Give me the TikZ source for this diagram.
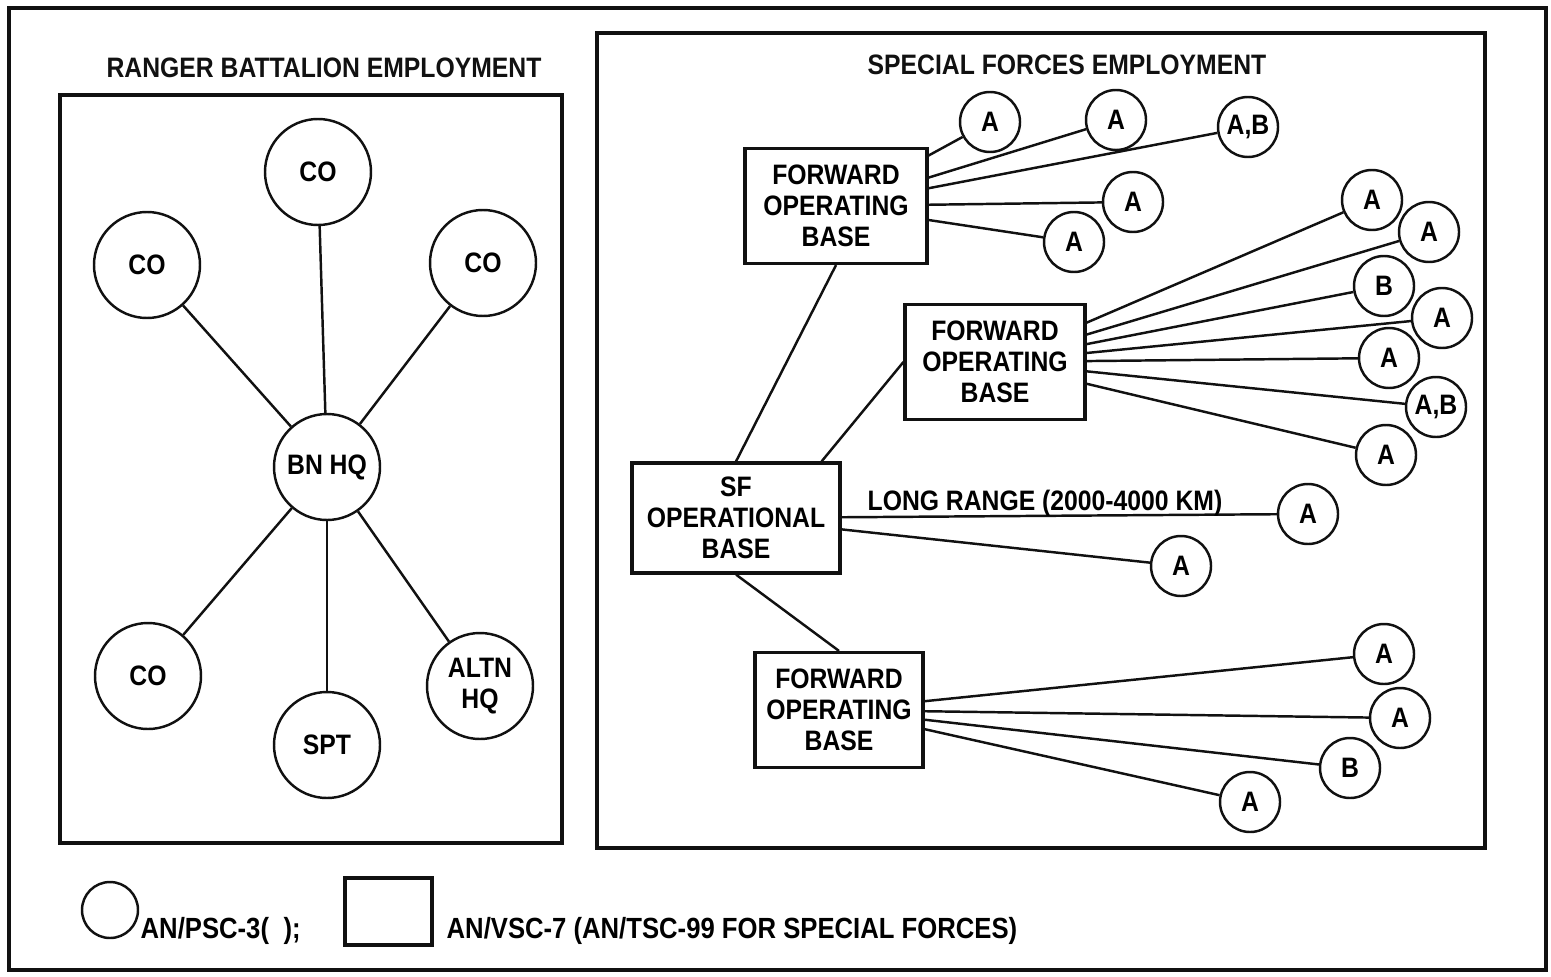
\documentclass[tikz,border=0pt]{standalone}
\usepackage{fontspec}
\setmainfont[FakeStretch=0.88]{Liberation Sans}
\usetikzlibrary{positioning}
\definecolor{Ink}{HTML}{111111}

\begin{document}
\begin{tikzpicture}[font=\fontsize{8}{8.8}\selectfont\bfseries,radio/.style={circle, draw=Ink, line width=0.7pt, minimum size=1.06cm, inner sep=0pt, align=center},tinyradio/.style={circle, draw=Ink, line width=0.7pt, minimum size=0.6cm, inner sep=0pt},station/.style={draw=Ink, line width=0.9pt, inner sep=0pt, align=center},link/.style={draw=Ink, line width=0.7pt},frame/.style={draw=Ink, line width=1pt},paneltitle/.style={text=Ink, font=\fontsize{8}{9}\selectfont\bfseries},keytext/.style={anchor=base west, inner sep=0pt, font=\fontsize{8.3}{9}\selectfont\bfseries}]
\useasboundingbox (0,0) rectangle (15.51,-9.76);
\draw[frame] (0.09,-0.08) rectangle (15.46,-9.70);
\draw[frame] (0.60,-0.95) rectangle (5.62,-8.43);
\draw[frame] (5.97,-0.33) rectangle (14.85,-8.48);
\node[paneltitle] (rtitle) at (3.24,-0.68) {RANGER BATTALION EMPLOYMENT};
\node[paneltitle] (stitle) at (10.67,-0.65) {SPECIAL FORCES EMPLOYMENT};
% ranger battalion
\node[radio] (bnhq) at (3.27,-4.67) {BN HQ};
\node[radio] (co1) at (3.18,-1.72) {CO};
\node[radio] (co2) at (1.47,-2.65) {CO};
\node[radio] (co3) at (4.83,-2.63) {CO};
\node[radio] (co4) at (1.48,-6.76) {CO};
\node[radio] (spt) at (3.27,-7.45) {SPT};
\node[radio] (altn) at (4.80,-6.86) {ALTN\\HQ};
\foreach \n in {co1,co2,co3,co4,spt,altn} \draw[link] (bnhq) -- (\n);
% special forces
\node[station, minimum width=2.08cm, minimum height=1.10cm] (sfob) at (7.36,-5.18) {SF\\OPERATIONAL\\BASE};
\node[station, minimum width=1.82cm, minimum height=1.15cm] (fob1) at (8.36,-2.06) {FORWARD\\OPERATING\\BASE};
\node[station, minimum width=1.80cm, minimum height=1.15cm] (fob2) at (9.95,-3.62) {FORWARD\\OPERATING\\BASE};
\node[station, minimum width=1.68cm, minimum height=1.15cm] (fob3) at (8.39,-7.10) {FORWARD\\OPERATING\\BASE};
\draw[link] (sfob.north) -- (fob1.south);
\draw[link] ([xshift=-0.2cm]sfob.north east) -- (fob2.west);
\draw[link] (sfob.south) -- (fob3.north);
\node[tinyradio] (a11) at (9.90,-1.22) {A};
\node[tinyradio] (a12) at (11.16,-1.20) {A};
\node[tinyradio] (a13) at (12.48,-1.27) {A,B};
\node[tinyradio] (a14) at (11.33,-2.02) {A};
\node[tinyradio] (a15) at (10.74,-2.42) {A};
\foreach \n in {a11,a12,a13,a14,a15} \draw[link] (fob1) -- (\n);
\node[tinyradio] (a21) at (13.72,-2.00) {A};
\node[tinyradio] (a22) at (14.29,-2.32) {A};
\node[tinyradio] (a23) at (13.84,-2.86) {B};
\node[tinyradio] (a24) at (14.42,-3.18) {A};
\node[tinyradio] (a25) at (13.89,-3.58) {A};
\node[tinyradio] (a26) at (14.36,-4.07) {A,B};
\node[tinyradio] (a27) at (13.86,-4.55) {A};
\foreach \n in {a21,a22,a23,a24,a25,a26,a27} \draw[link] (fob2) -- (\n);
\node[tinyradio] (a31) at (13.08,-5.14) {A};
\node[tinyradio] (a32) at (11.81,-5.66) {A};
\draw[link] (sfob) -- (a31);
\draw[link] (sfob) -- (a32);
\node (lrange) at (10.45,-5.03) {LONG RANGE (2000-4000 KM)};
\node[tinyradio] (a41) at (13.84,-6.54) {A};
\node[tinyradio] (a42) at (14.00,-7.18) {A};
\node[tinyradio] (a43) at (13.50,-7.68) {B};
\node[tinyradio] (a44) at (12.50,-8.02) {A};
\foreach \n in {a41,a42,a43,a44} \draw[link] (fob3) -- (\n);
% legend
\node[circle, draw=Ink, line width=0.7pt, minimum size=0.56cm, inner sep=0pt] (keyradio) at (1.10,-9.10) {};
\node[keytext] (keyradiotext) at (1.40,-9.38) {AN/PSC-3(\enspace);};
\node[station, minimum width=0.87cm, minimum height=0.67cm] (keystation) at (3.885,-9.115) {};
\node[keytext] (keystationtext) at (4.46,-9.38) {AN/VSC-7 (AN/TSC-99 FOR SPECIAL FORCES)};
\end{tikzpicture}
\end{document}
